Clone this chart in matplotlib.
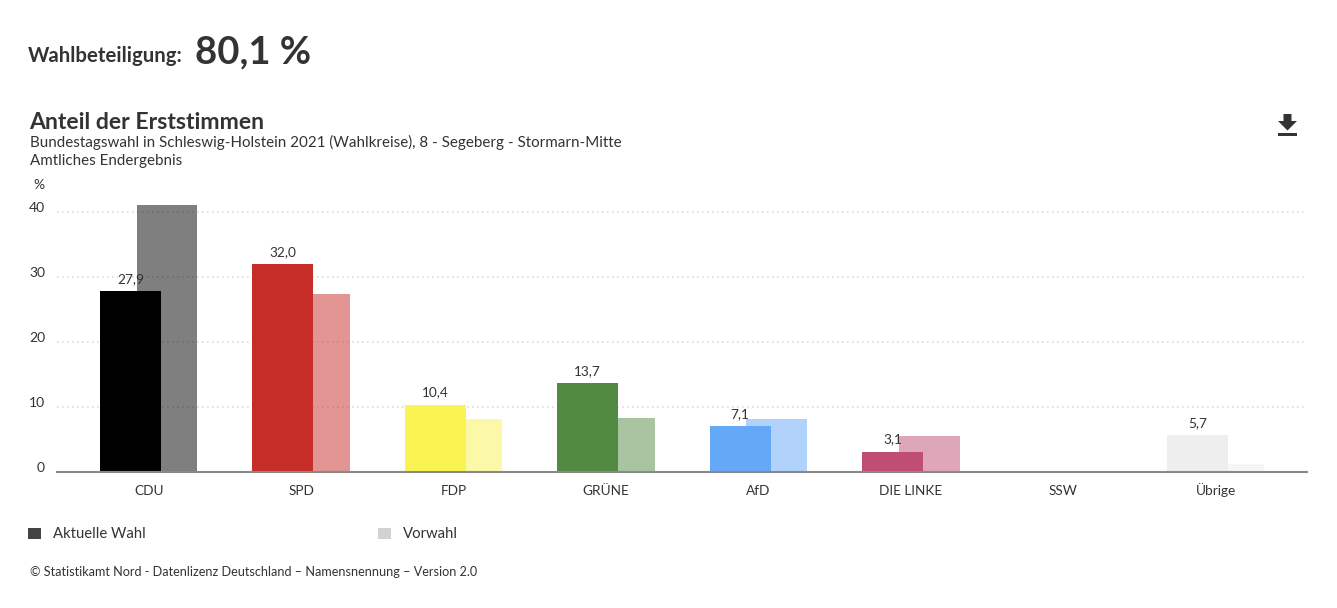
import matplotlib
matplotlib.use("Agg")
import matplotlib.pyplot as plt
from matplotlib.patches import Polygon, Rectangle

W, H = 1337, 608
categories = ["CDU", "SPD", "FDP", "GRÜNE", "AfD", "DIE LINKE", "SSW", "Übrige"]
aktuell = [27.9, 32.0, 10.4, 13.7, 7.1, 3.1, 0.0, 5.7]
aktuell_labels = ["27,9", "32,0", "10,4", "13,7", "7,1", "3,1", "", "5,7"]
vorwahl = [41.2, 27.5, 8.1, 8.3, 8.1, 5.6, 0.0, 1.2]
farben = ["#000000", "#c62c28", "#f9f451", "#528a42", "#64a8f8", "#c04d73", "#dddddd", "#eeeeee"]
y_ticks = [0, 10, 20, 30, 40]

plt.rcParams["font.family"] = ["Lato", "DejaVu Sans"]
TXT = "#333333"
fig = plt.figure(figsize=(W / 100, H / 100), dpi=100, facecolor="white")

def fx(x): return x / W
def fy(y): return 1 - y / H

ax_l, ax_r, ax_top, ax_bot = 57, 1307, 172, 472
ax = fig.add_axes([fx(ax_l), fy(ax_bot), (ax_r - ax_l) / W, (ax_bot - ax_top) / H])
ax.set_xlim(-0.6037, 7.598)
ax.set_ylim(0, (ax_bot - ax_top) / 6.49)
ax.patch.set_alpha(0)

bw = 0.4
xs = list(range(len(categories)))
cur_x = [x - 0.122 for x in xs]
prev_x = [x + 0.118 for x in xs]
ax.bar(prev_x, vorwahl, width=bw, color=farben, alpha=0.5, zorder=2, linewidth=0)
ax.bar(cur_x, aktuell, width=bw, color=farben, zorder=3, linewidth=0)
for x, v, s in zip(cur_x, aktuell, aktuell_labels):
    if s:
        ax.annotate(s, (x, v), xytext=(0, 4.5), textcoords="offset points", ha="center",
                    va="bottom", fontsize=9.8, color=TXT, zorder=5)

ax.set_yticks(y_ticks)
ax.set_yticklabels([str(t) for t in y_ticks], fontsize=10, color=TXT)
ax.set_xticks(xs)
ax.set_xticklabels(categories, fontsize=9.8, color=TXT)
ax.tick_params(axis="both", length=0)
ax.tick_params(axis="x", pad=16.5)
ax.tick_params(axis="y", pad=8.6)
for lbl in ax.get_xticklabels():
    lbl.set_verticalalignment("baseline")
for lbl in ax.get_yticklabels():
    lbl.set_verticalalignment("baseline")
ax.yaxis.grid(True, color="#dcdcdc", linestyle=(0, (1, 2)), linewidth=1.2, zorder=1)
ax.set_axisbelow(True)
for s in ["top", "left", "right"]:
    ax.spines[s].set_visible(False)
ax.spines["bottom"].set_color("#8a8a8a")
ax.spines["bottom"].set_linewidth(1.5)
ax.spines["bottom"].set_zorder(6)

def t(x, y, s, size, weight="normal", color=TXT):
    fig.text(fx(x), fy(y), s, fontsize=size, fontweight=weight, color=color, ha="left", va="baseline")

t(28, 62, "Wahlbeteiligung:", 14.7, "bold")
t(195, 63, "80,1 %", 27.5, "bold")
t(29, 129, "Anteil der Erststimmen", 16.6, "bold")
t(30, 147, "Bundestagswahl in Schleswig-Holstein 2021 (Wahlkreise), 8 - Segeberg - Stormarn-Mitte", 10.9)
t(30, 165, "Amtliches Endergebnis", 10.9)
t(33, 189, "%", 10)
t(53, 538, "Aktuelle Wahl", 10.7)
t(403, 538, "Vorwahl", 10.7)
t(30, 576, "© Statistikamt Nord - Datenlizenz Deutschland – Namensnennung – Version 2.0", 9.1)

def rect(x, y, w, h, c):
    fig.add_artist(Rectangle((fx(x), fy(y + h)), w / W, h / H, transform=fig.transFigure,
                             facecolor=c, edgecolor="none"))

rect(28, 528, 13, 11, "#444444")
rect(378, 528, 13, 11, "#d2d2d2")
rect(1278, 133, 19, 2.5, "#333333")
arrow = [(1283.5, 114), (1291.5, 114), (1291.5, 121), (1297, 121), (1287.5, 130.5), (1278, 121), (1283.5, 121)]
fig.add_artist(Polygon([(fx(a), fy(b)) for a, b in arrow], closed=True,
                       transform=fig.transFigure, facecolor="#333333", edgecolor="none"))

fig.savefig("out.png", dpi=100, facecolor="white")
